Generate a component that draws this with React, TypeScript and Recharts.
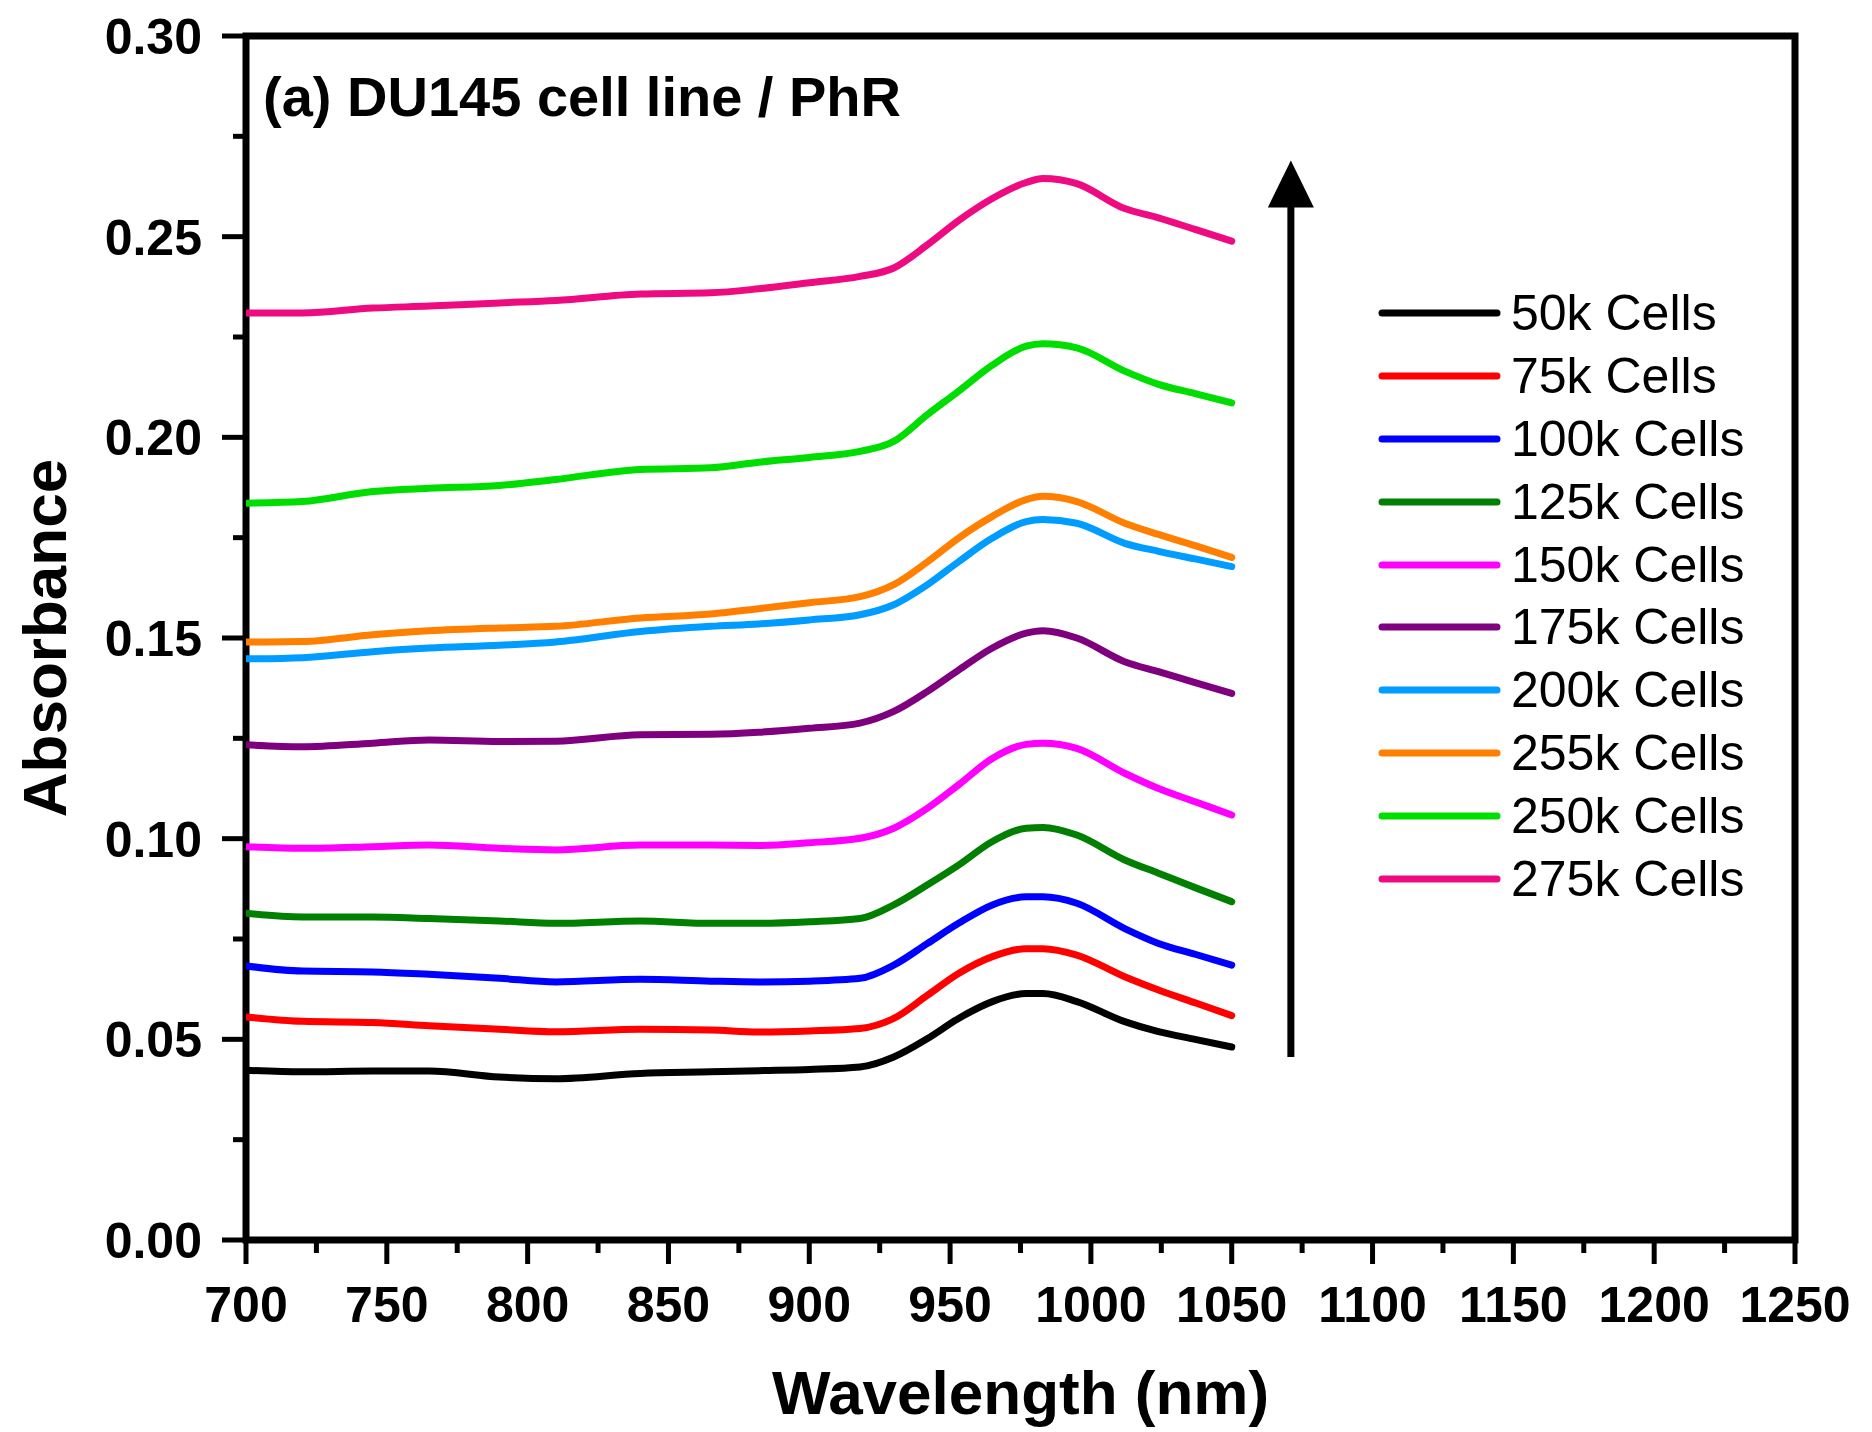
import React from 'react';
import { LineChart, Line, XAxis, YAxis, ReferenceArea, ReferenceLine, Legend, Label } from 'recharts';

// ---------- data ----------
const wavelengths = [700, 720, 745, 765, 790, 810, 840, 865, 882, 900, 918, 930, 942, 953, 965, 977, 983, 995, 1012, 1024, 1037, 1050];

const cells50k = [0.0423, 0.0419, 0.0421, 0.0421, 0.0406, 0.0402, 0.0415, 0.0419, 0.0422, 0.0425, 0.0431, 0.0456, 0.0502, 0.0552, 0.0594, 0.0614, 0.0614, 0.0594, 0.0544, 0.0519, 0.0500, 0.0481];
const cells75k = [0.0556, 0.0545, 0.0542, 0.0534, 0.0525, 0.0519, 0.0525, 0.0523, 0.0518, 0.0521, 0.0527, 0.0552, 0.0610, 0.0664, 0.0706, 0.0726, 0.0726, 0.0710, 0.0656, 0.0623, 0.0591, 0.0559];
const cells100k = [0.0683, 0.0670, 0.0668, 0.0662, 0.0652, 0.0643, 0.0650, 0.0645, 0.0643, 0.0645, 0.0652, 0.0685, 0.0739, 0.0789, 0.0835, 0.0855, 0.0855, 0.0839, 0.0776, 0.0739, 0.0712, 0.0685];
const cells125k = [0.0814, 0.0805, 0.0805, 0.0801, 0.0795, 0.0789, 0.0795, 0.0789, 0.0789, 0.0793, 0.0801, 0.0835, 0.0885, 0.0934, 0.0993, 0.1026, 0.1028, 0.1009, 0.0947, 0.0914, 0.0878, 0.0843];
const cells150k = [0.0980, 0.0976, 0.0980, 0.0984, 0.0976, 0.0972, 0.0984, 0.0984, 0.0983, 0.0990, 0.1001, 0.1026, 0.1076, 0.1134, 0.1200, 0.1235, 0.1238, 0.1225, 0.1163, 0.1125, 0.1092, 0.1059];
const cells175k = [0.1234, 0.1229, 0.1238, 0.1246, 0.1242, 0.1243, 0.1259, 0.1260, 0.1265, 0.1275, 0.1288, 0.1317, 0.1367, 0.1420, 0.1475, 0.1512, 0.1518, 0.1500, 0.1441, 0.1416, 0.1389, 0.1362];
const cells200k = [0.1448, 0.1451, 0.1466, 0.1475, 0.1482, 0.1490, 0.1516, 0.1529, 0.1535, 0.1545, 0.1558, 0.1583, 0.1633, 0.1690, 0.1749, 0.1790, 0.1795, 0.1786, 0.1736, 0.1716, 0.1697, 0.1678];
const cells255k = [0.1490, 0.1491, 0.1508, 0.1518, 0.1525, 0.1529, 0.1550, 0.1560, 0.1573, 0.1588, 0.1603, 0.1633, 0.1690, 0.1749, 0.1803, 0.1845, 0.1853, 0.1840, 0.1786, 0.1758, 0.1730, 0.1701];
const cells250k = [0.1836, 0.1840, 0.1865, 0.1873, 0.1880, 0.1895, 0.1920, 0.1924, 0.1938, 0.1950, 0.1965, 0.1990, 0.2057, 0.2115, 0.2180, 0.2227, 0.2233, 0.2223, 0.2165, 0.2132, 0.2109, 0.2086];
const cells275k = [0.2310, 0.2310, 0.2322, 0.2327, 0.2335, 0.2341, 0.2357, 0.2360, 0.2370, 0.2385, 0.2401, 0.2422, 0.2480, 0.2540, 0.2595, 0.2635, 0.2645, 0.2632, 0.2570, 0.2547, 0.2518, 0.2489];

const seriesNames = ['50k Cells', '75k Cells', '100k Cells', '125k Cells', '150k Cells', '175k Cells', '200k Cells', '255k Cells', '250k Cells', '275k Cells'];
const seriesValues = [cells50k, cells75k, cells100k, cells125k, cells150k, cells175k, cells200k, cells255k, cells250k, cells275k];
const seriesColors = ['#000000', '#FF0000', '#0000FF', '#007F00', '#FF00FF', '#7F007F', '#009CFF', '#FF7F00', '#00DD00', '#EE0A80'];

const xTicks = [700, 725, 750, 775, 800, 825, 850, 875, 900, 925, 950, 975, 1000, 1025, 1050, 1075, 1100, 1125, 1150, 1175, 1200, 1225, 1250];
const yTicks = [0, 0.025, 0.05, 0.075, 0.1, 0.125, 0.15, 0.175, 0.2, 0.225, 0.25, 0.275, 0.3];

const arrowX = 1071;
const arrowBottom = 0.0456;
const arrowTip = 0.269;

const annotationText = '(a) DU145 cell line / PhR';
const xTitle = 'Wavelength (nm)';
const yTitle = 'Absorbance';

const FONT = '"Liberation Sans", Arial, Helvetica, sans-serif';

const chartData = wavelengths.map((wl, i) => {
  const row: Record<string, number> = { wl };
  seriesValues.forEach((arr, s) => {
    row['s' + s] = arr[i];
  });
  return row;
});

// ---------- custom renderers ----------
const XTick = (props: any) => {
  const { x, y, payload } = props;
  const v = payload.value;
  const major = Math.round(v) % 50 === 0;
  return (
    <g>
      <line x1={x} x2={x} y1={y} y2={y + (major ? 24 : 13)} stroke="#000" strokeWidth={5} />
      {major && (
        <text x={x} y={y + 82} textAnchor="middle" fontFamily={FONT} fontWeight="bold" fontSize={50} fill="#000">
          {v}
        </text>
      )}
    </g>
  );
};

const YTick = (props: any) => {
  const { x, y, payload } = props;
  const v = payload.value;
  const major = Math.round(v * 1000) % 50 === 0;
  return (
    <g>
      <line x1={x} x2={x - (major ? 24 : 13)} y1={y} y2={y} stroke="#000" strokeWidth={5} />
      {major && (
        <text x={x - 44} y={y + 18} textAnchor="end" fontFamily={FONT} fontWeight="bold" fontSize={50} fill="#000">
          {v.toFixed(2)}
        </text>
      )}
    </g>
  );
};

const XTitle = (props: any) => {
  const vb = props.viewBox || { x: 246, y: 1240, width: 1549, height: 150 };
  return (
    <text x={vb.x + vb.width / 2} y={vb.y + 174} textAnchor="middle" fontFamily={FONT} fontWeight="bold" fontSize={62} fill="#000">
      {xTitle}
    </text>
  );
};

const YTitle = (props: any) => {
  const vb = props.viewBox || { x: 46, y: 36, width: 200, height: 1204 };
  const cx = vb.x + vb.width - 180;
  const cy = vb.y + vb.height / 2;
  return (
    <text x={cx} y={cy} transform={`rotate(-90, ${cx}, ${cy})`} textAnchor="middle" fontFamily={FONT} fontWeight="bold" fontSize={62} fill="#000">
      {yTitle}
    </text>
  );
};

const Annotation = (props: any) => {
  const vb = props.viewBox || { x: 46, y: 36, width: 200, height: 1204 };
  return (
    <text x={vb.x + vb.width + 17} y={vb.y + 80} fontFamily={FONT} fontWeight="bold" fontSize={56} fill="#000">
      {annotationText}
    </text>
  );
};

const ArrowShape = (p: any) => {
  const { x1, y1, x2, y2 } = p;
  const bottomY = Math.max(y1, y2);
  const tipY = Math.min(y1, y2);
  const headLen = 47;
  const half = 23;
  return (
    <g>
      <line x1={x1} x2={x2} y1={bottomY} y2={tipY + headLen - 2} stroke="#000" strokeWidth={7} />
      <polygon points={`${x1},${tipY} ${x1 - half},${tipY + headLen} ${x1 + half},${tipY + headLen}`} fill="#000" />
    </g>
  );
};

const renderLegend = () => (
  <div style={{ fontFamily: FONT }}>
    {seriesNames.map((n, i) => (
      <div key={n} style={{ display: 'flex', alignItems: 'center', height: 62.9 }}>
        <svg width={133} height={12} style={{ display: 'block' }}>
          <line x1={4} x2={119} y1={6} y2={6} stroke={seriesColors[i]} strokeWidth={7} strokeLinecap="round" />
        </svg>
        <span style={{ fontSize: 50, lineHeight: '50px', color: '#000', whiteSpace: 'nowrap' }}>{n}</span>
      </div>
    ))}
  </div>
);

export default function App() {
  return (
    <div style={{ position: 'absolute', left: 0, top: 0, width: 1872, height: 1432, background: '#fff' }}>
      <LineChart width={1872} height={1432} data={chartData} margin={{ top: 36, right: 77, bottom: 42, left: 46 }}>
        <XAxis
          dataKey="wl"
          type="number"
          domain={[700, 1250]}
          ticks={xTicks}
          interval={0}
          height={150}
          axisLine={false}
          tickLine={false}
          tickSize={0}
          tickMargin={0}
          tick={<XTick />}
          allowDataOverflow
        >
          <Label content={<XTitle />} />
        </XAxis>
        <YAxis
          type="number"
          domain={[0, 0.3]}
          ticks={yTicks}
          interval={0}
          width={200}
          axisLine={false}
          tickLine={false}
          tickSize={0}
          tickMargin={0}
          tick={<YTick />}
          allowDataOverflow
        >
          <Label content={<YTitle />} />
          <Label content={<Annotation />} />
        </YAxis>
        <ReferenceArea x1={700} x2={1250} y1={0} y2={0.3} fill="none" stroke="#000" strokeWidth={7} ifOverflow="visible" />
        <ReferenceLine
          segment={[{ x: arrowX, y: arrowBottom }, { x: arrowX, y: arrowTip }]}
          ifOverflow="visible"
          shape={<ArrowShape />}
        />
        {seriesNames.map((n, i) => (
          <Line
            key={n}
            type="monotone"
            dataKey={'s' + i}
            name={n}
            stroke={seriesColors[i]}
            strokeWidth={7}
            strokeLinecap="round"
            strokeLinejoin="round"
            dot={false}
            activeDot={false}
            isAnimationActive={false}
          />
        ))}
        <Legend
          layout="vertical"
          align="center"
          verticalAlign="middle"
          content={renderLegend}
          wrapperStyle={{ left: 1378, top: 281.5, width: 460 }}
        />
      </LineChart>
    </div>
  );
}
